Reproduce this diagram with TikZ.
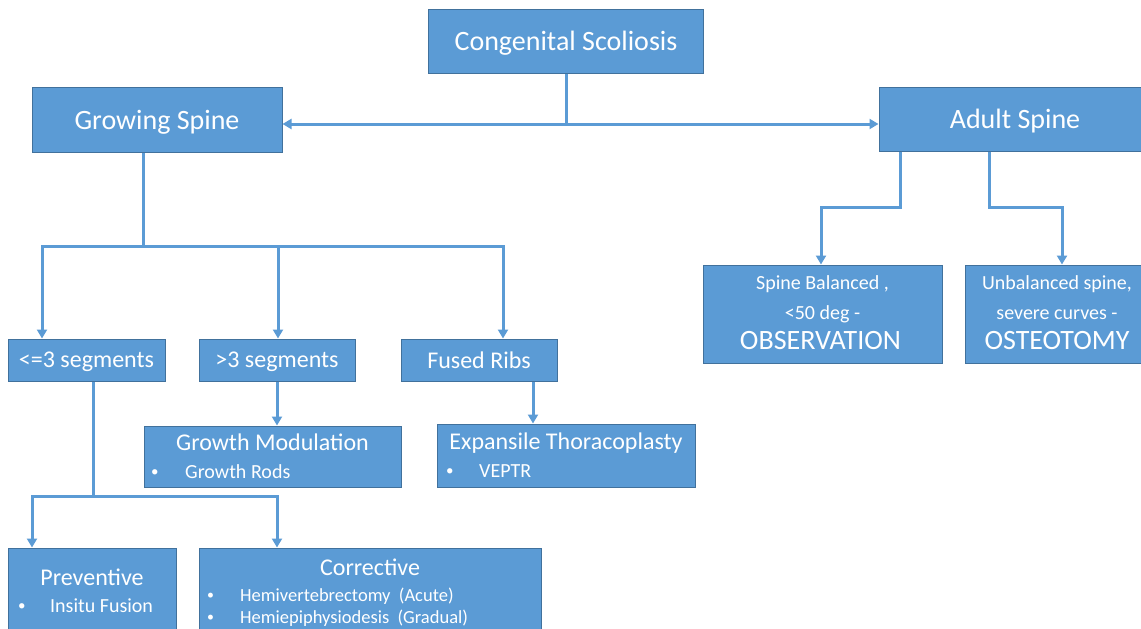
\documentclass[tikz,border=0pt]{standalone}
\usepackage{fontspec}
\usepackage{graphicx}
\setmainfont{Carlito}
\usetikzlibrary{arrows.meta}
\definecolor{boxFill}{HTML}{5B9BD5}
\definecolor{boxEdge}{HTML}{41719C}
\definecolor{wireBlue}{HTML}{5B9BD5}
\newcommand{\blt}{\raisebox{0.1em}{\scalebox{0.75}{\textbullet}}}
\begin{document}
\begin{tikzpicture}[x=1pt, y=-1pt,
  box/.style={draw=boxEdge, fill=boxFill, line width=1pt, text=white, inner sep=0pt, text depth=0pt},
  lbl/.style={text=white, inner sep=0pt, anchor=base},
  bul/.style={lbl, anchor=base west},
  wire/.style={draw=wireBlue, line width=3pt},
  arr/.style={wire, -{Triangle[length=9pt,width=10pt]}}]
% font sizes
\def\fsHead{\fontsize{28pt}{32pt}\selectfont}
\def\fsMid{\fontsize{24pt}{28pt}\selectfont}
\def\fsItem{\fontsize{20pt}{24pt}\selectfont}
\def\fsSmall{\fontsize{18.5pt}{22pt}\selectfont}
\useasboundingbox (0,0) rectangle (1141,629);
\clip (0,0) rectangle (1141,629);
\fill[white] (0,0) rectangle (1141,629);
% Top level
\node[box, minimum width=275pt, minimum height=64pt, font=\fsHead] (cs) at (566,41) {Congenital Scoliosis};
\node[box, minimum width=250pt, minimum height=65pt, font=\fsHead] (gs) at (157,119.5) {Growing Spine};
\node[box, minimum width=272pt, minimum height=64pt, font=\fsHead] (as) at (1015,119) {Adult Spine};
% Growing spine level
\node[box, minimum width=157pt, minimum height=42pt, font=\fsMid] (s3l) at (86.5,360) {<=3 segments};
\node[box, minimum width=156pt, minimum height=42pt, font=\fsMid] (s3g) at (277,360) {>3 segments};
\node[box, minimum width=156pt, minimum height=42pt, font=\fsMid] (fr) at (479,360) {Fused Ribs};
% Treatment boxes
\node[box, minimum width=257pt, minimum height=61pt] (gm) at (272.5,456.5) {};
\node[lbl, font=\fsMid] (gmT) at (272.5,450) {Growth Modulation};
\node[bul, font=\fsItem] (gmI) at (151,478) {\makebox[34pt][l]{\blt}Growth Rods};
\node[box, minimum width=258pt, minimum height=63pt] (et) at (566,455.5) {};
\node[lbl, font=\fsMid] (etT) at (566,449) {Expansile Thoracoplasty};
\node[bul, font=\fsItem] (etI) at (446,477) {\makebox[33pt][l]{\blt}VEPTR};
\node[box, minimum width=168pt, minimum height=100pt] (pv) at (92,598) {};
\node[lbl, font=\fsMid] (pvT) at (92,585) {Preventive};
\node[bul, font=\fsItem] (pvI) at (18,612) {\makebox[32pt][l]{\blt}Insitu Fusion};
\node[box, minimum width=342pt, minimum height=100pt] (cr) at (370,598) {};
\node[lbl, font=\fsMid] (crT) at (370,575) {Corrective};
\node[bul, font=\fsSmall] (crA) at (207,601) {\makebox[33pt][l]{\blt}Hemivertebrectomy\ \ (Acute)};
\node[bul, font=\fsSmall] (crB) at (207,623) {\makebox[33pt][l]{\blt}Hemiepiphysiodesis\ \ (Gradual)};
% Adult spine level
\node[box, minimum width=239pt, minimum height=98pt] (sb) at (822.5,314) {};
\node[lbl, font=\fsItem] (sbA) at (822.5,289) {Spine Balanced ,};
\node[lbl, font=\fsItem] (sbB) at (822.5,319) {<50 deg -};
\node[lbl, font=\fsHead] (sbC) at (820.5,349) {OBSERVATION};
\node[box, minimum width=184pt, minimum height=98pt] (ub) at (1057,314) {};
\node[lbl, font=\fsItem] (ubA) at (1057,289) {Unbalanced spine,};
\node[lbl, font=\fsItem] (ubB) at (1057,319) {severe curves -};
\node[lbl, font=\fsHead] (ubC) at (1057,349) {OSTEOTOMY};
% Connectors from the top box
\coordinate (csJ) at (566,124);
\draw[wire] (cs.south) -- (csJ);
\draw[arr] (csJ) -- (gs.east |- csJ);
\draw[arr] (csJ) -- (as.west |- csJ);
% Growing spine branches
\coordinate (gsJ) at (143,246);
\draw[wire] (gs.south -| gsJ) -- (gsJ);
\draw[arr] (gsJ) -| ([xshift=-44.5pt]s3l.north);
\draw[arr] (gsJ) -| ([xshift=1pt]s3g.north);
\draw[arr] (gsJ) -| ([xshift=24pt]fr.north);
\draw[arr] (s3g.south) -- (s3g.south |- gm.north);
\coordinate (frD) at ([xshift=54pt]fr.south);
\draw[arr] (frD) -- (frD |- et.north);
% <=3 segments branches
\coordinate (s3J) at (93,496);
\draw[wire] (s3l.south -| s3J) -- (s3J);
\draw[arr] (s3J) -| ([xshift=-60pt]pv.north);
\draw[arr] (s3J) -| ([xshift=-93pt]cr.north);
% Adult spine branches
\coordinate (asL) at (900,207);
\coordinate (asR) at (989,207);
\draw[arr] (as.south -| asL) -- (asL) -| ([xshift=-1.5pt]sb.north);
\draw[arr] (as.south -| asR) -- (asR) -| ([xshift=5pt]ub.north);
\end{tikzpicture}
\end{document}
